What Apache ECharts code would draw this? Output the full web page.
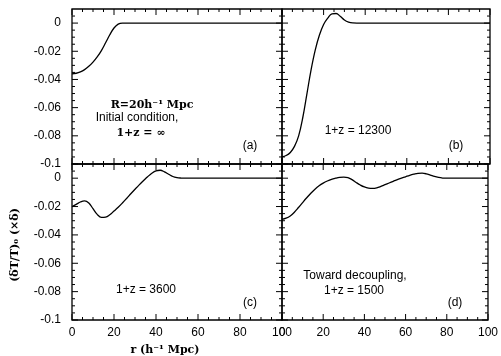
<!DOCTYPE html>
<html><head><meta charset="utf-8">
<script src="https://cdn.jsdelivr.net/npm/echarts@6/dist/echarts.min.js"></script>
<style>html,body{margin:0;padding:0;background:#fff}#c{width:501px;height:356px}</style>
</head><body><div id="c"></div>
<script>
const r = [0,2,4,6,8,10,12,14,16,18,20,22,24,26,28,30,32,34,36,38,40,42,44,46,48,50,52,54,56,58,60,62,64,66,68,70,72,74,76,78,80,82,84,86,88,90,92,94,96,98,100];
const panelA = [-0.0360,-0.0356,-0.0346,-0.0330,-0.0307,-0.0277,-0.0240,-0.0195,-0.0140,-0.0083,-0.0035,-0.0007,0,
  0,0,0,0,0,0,0,0,0,0,0,0,0,0,0,0,0,0,0,0,0,0,0,0,0,0,0,0,0,0,0,0,0,0,0,0,0,0];
const panelB = [-0.0950,-0.0940,-0.0918,-0.0875,-0.0800,-0.0670,-0.0500,-0.0330,-0.0190,-0.0085,-0.0010,0.0035,0.0066,0.0068,0.0048,0.0022,0.0007,0.0001,
  0,0,0,0,0,0,0,0,0,0,0,0,0,0,0,0,0,0,0,0,0,0,0,0,0,0,0,0,0,0,0,0,0];
const panelC = [-0.0200,-0.0185,-0.0168,-0.0160,-0.0175,-0.0215,-0.0255,-0.0277,-0.0275,-0.0258,-0.0232,-0.0205,-0.0175,-0.0143,-0.0110,-0.0078,-0.0047,-0.0018,0.0010,0.0035,0.0052,0.0056,0.0045,0.0028,0.0012,0.0004,0.0001,
  0,0,0,0,0,0,0,0,0,0,0,0,0,0,0,0,0,0,0,0,0,0,0,0];
const panelD = [-0.0290,-0.0282,-0.0266,-0.0240,-0.0207,-0.0172,-0.0138,-0.0106,-0.0078,-0.0054,-0.0035,-0.0020,-0.0008,0.0000,0.0006,0.0008,0.0004,-0.0010,-0.0030,-0.0048,-0.0062,-0.0070,-0.0072,-0.0068,-0.0058,-0.0046,-0.0034,-0.0022,-0.0010,0.0000,0.0010,0.0020,0.0028,0.0034,0.0035,0.0031,0.0022,0.0012,0.0005,0.0001,
  0,0,0,0,0,0,0,0,0,0,0];
const xMajorTicks = [0,20,40,60,80,100];
const xMinorTicks = [5,10,15,25,30,35,45,50,55,65,70,75,85,90,95];
const yMajorTicks = [-0.1,-0.08,-0.06,-0.04,-0.02,0];
const yMinorTicks = [-0.095,-0.09,-0.085,-0.075,-0.07,-0.065,-0.055,-0.05,-0.045,-0.035,-0.03,-0.025,-0.015,-0.01,-0.005,0.005];
const xRange = {min:0, max:100, interval:20};
const yRange = {min:-0.1, max:0.01, interval:0.02};
const panelLetters = ['(a)','(b)','(c)','(d)'];

const chart = echarts.init(document.getElementById('c'), null, {renderer:'canvas'});
const grids = [
  {left:72, top:9, width:210, height:155},
  {left:282, top:9, width:208, height:155},
  {left:72, top:164, width:210, height:156},
  {left:282, top:164, width:208, height:156}
].map(g => Object.assign({show:true, borderColor:'#000', borderWidth:1.3, backgroundColor:'transparent'}, g));

const xAxes = [], yAxes = [];
for (let g=0; g<4; g++) {
  xAxes.push({type:'value', gridIndex:g, position:'bottom', min:xRange.min, max:xRange.max, interval:xRange.interval,
    axisLine:{show:false, onZero:false}, axisTick:{show:false}, splitLine:{show:false},
    axisLabel:{show:g>=2, margin:7, color:'#000', fontFamily:'Liberation Sans', fontSize:12}});
  yAxes.push({type:'value', gridIndex:g, position:'left', min:yRange.min, max:yRange.max, interval:yRange.interval,
    axisLine:{show:false, onZero:false}, axisTick:{show:false}, splitLine:{show:false},
    axisLabel:{show:g%2===0, margin:11, showMaxLabel:false, color:'#000', fontFamily:'Liberation Sans', fontSize:12}});
}

// tick items: [value, kind] kind 0=x major, 1=x minor, 2=y major, 3=y minor
const tickItems = [].concat(
  xMajorTicks.map(v=>[v,0]), xMinorTicks.map(v=>[v,1]),
  yMajorTicks.map(v=>[v,2]), yMinorTicks.map(v=>[v,3]));
const tickStyle = {stroke:'#000', lineWidth:1};
const renderTick = (params, api) => {
  const v = api.value(0), kind = api.value(1);
  const len = (kind===0 || kind===2) ? 6 : 3;
  if (kind < 2) {
    const b = api.coord([v, yRange.min]), t = api.coord([v, yRange.max]);
    return {type:'group', children:[
      {type:'line', shape:{x1:b[0], y1:b[1], x2:b[0], y2:b[1]-len}, style:tickStyle},
      {type:'line', shape:{x1:t[0], y1:t[1], x2:t[0], y2:t[1]+len}, style:tickStyle}]};
  }
  const L = api.coord([xRange.min, v]), R = api.coord([xRange.max, v]);
  return {type:'group', children:[
    {type:'line', shape:{x1:L[0], y1:L[1], x2:L[0]+len, y2:L[1]}, style:tickStyle},
    {type:'line', shape:{x1:R[0], y1:R[1], x2:R[0]-len, y2:R[1]}, style:tickStyle}]};
};

const panels = [panelA, panelB, panelC, panelD];
const series = [];
panels.forEach((vals, g) => {
  series.push({type:'line', xAxisIndex:g, yAxisIndex:g, data: r.map((x,i)=>[x, vals[i]]),
    showSymbol:false, smooth:0.4, lineStyle:{color:'#000', width:1.3}, silent:true, z:5});
  series.push({type:'custom', xAxisIndex:g, yAxisIndex:g, data:tickItems, renderItem:renderTick,
    encode:{x:0}, clip:false, silent:true, z:4});
});

const sans = '12px "Liberation Sans"';
const serifB = 'bold 11px "DejaVu Serif"';
const txt = (x,y,text,font) => ({type:'text', x:x, y:y, style:{text:text, font:font, fill:'#000', textAlign:'center', textVerticalAlign:'middle'}});
const graphic = [
  txt(152,105,'R=20h\u207B\u00B9 Mpc',serifB),
  txt(137,118,'Initial condition,',sans),
  txt(141,133,'1+z = \u221E',serifB),
  txt(250,146,panelLetters[0],sans),
  txt(358,131,'1+z = 12300',sans),
  txt(456,146,panelLetters[1],sans),
  txt(146,290,'1+z = 3600',sans),
  txt(250,303,panelLetters[2],sans),
  txt(355,276,'Toward decoupling,',sans),
  txt(354,291,'1+z = 1500',sans),
  txt(455,303,panelLetters[3],sans),
  txt(165,350,'r (h\u207B\u00B9 Mpc)',serifB),
  {type:'text', x:15, y:245, rotation:Math.PI/2, style:{text:'(\u03B4T/T)\u2080 (\u00D7\u03B4)', font:serifB, fill:'#000', textAlign:'center', textVerticalAlign:'middle'}}
];

chart.setOption({animation:false, backgroundColor:'#fff', grid:grids, xAxis:xAxes, yAxis:yAxes, series:series, graphic:graphic});
</script></body></html>
